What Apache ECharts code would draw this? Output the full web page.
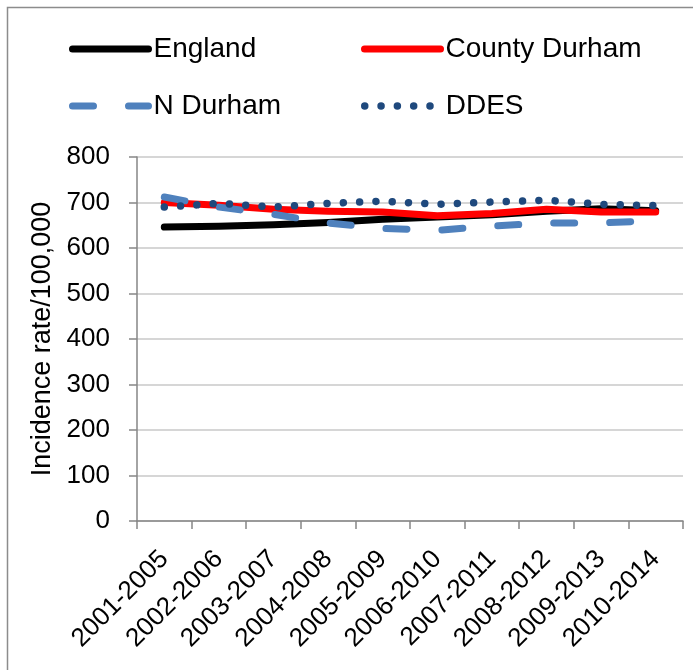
<!DOCTYPE html>
<html>
<head>
<meta charset="utf-8">
<script src="https://cdn.jsdelivr.net/npm/echarts@6/dist/echarts.min.js"></script>
<style>
  html, body { margin: 0; padding: 0; background: #ffffff; }
  #chart { width: 693px; height: 670px; }
</style>
</head>
<body>
<div id="chart"></div>
<script>
// Five-year rolling periods
const periods = ['2001-2005', '2002-2006', '2003-2007', '2004-2008', '2005-2009',
                 '2006-2010', '2007-2011', '2008-2012', '2009-2013', '2010-2014'];

// Incidence rate per 100,000
const england      = [646, 648, 651, 656, 663, 668, 673, 681, 686, 682];
const countyDurham = [700, 694, 685, 681, 679, 671, 676, 685, 679, 679];
const nDurham      = [712, 690, 674, 655, 643, 639, 648, 655, 655, 660];
const ddes         = [690, 698, 690, 698, 703, 696, 701, 705, 696, 693];

const yTicks = { min: 0, max: 800, interval: 100 };

const FONT = "'Liberation Sans', Arial, sans-serif";

// Line styles shared by each series and its legend entry
const styles = {
  'England':       { color: '#000000', width: 7, type: 'solid' },
  'County Durham': { color: '#ff0000', width: 7, type: 'solid' },
  'N Durham':      { color: '#4f81bd', width: 7, type: [21, 35] },
  'DDES':          { color: '#1f497d', width: 7.5, type: [0.01, 16.3] }
};

const chart = echarts.init(document.getElementById('chart'), null, { renderer: 'canvas' });

function legendAt(name, left, top) {
  const s = styles[name];
  return {
    data: [name],
    left: left,
    top: top,
    itemWidth: 76,
    itemHeight: 14,
    itemGap: 0,
    padding: 0,
    itemStyle: { opacity: 0 },
    lineStyle: { width: s.width, type: s.type, cap: 'round', color: s.color },
    textStyle: { fontFamily: FONT, fontSize: 28, color: '#000000' },
    selectedMode: false
  };
}

function lineSeries(name, data, z) {
  const s = styles[name];
  return {
    name: name, type: 'line', data: data,
    symbol: 'none', z: z,
    itemStyle: { color: s.color },
    lineStyle: { color: s.color, width: s.width, type: s.type, cap: 'round', join: 'round' }
  };
}

chart.setOption({
  animation: false,
  backgroundColor: '#ffffff',
  graphic: [{
    type: 'rect',
    shape: { x: 7.5, y: 7.5, width: 720, height: 720 },
    style: { fill: 'none', stroke: '#8c8c8c', lineWidth: 1.5 },
    silent: true
  }],
  legend: [
    legendAt('England', 69, 35),
    legendAt('County Durham', 361, 35),
    legendAt('N Durham', 69, 92),
    legendAt('DDES', 361, 92)
  ],
  grid: { left: 137, right: 10, top: 157, bottom: 149, containLabel: false },
  xAxis: {
    type: 'category',
    data: periods,
    boundaryGap: true,
    axisLine: { lineStyle: { color: '#868686', width: 1.5 } },
    axisTick: { show: true, length: 8, lineStyle: { color: '#868686', width: 1.5 } },
    axisLabel: {
      rotate: 45,
      interval: 0,
      fontFamily: FONT,
      fontSize: 26,
      color: '#000000',
      margin: 34
    },
    splitLine: { show: false }
  },
  yAxis: {
    type: 'value',
    min: yTicks.min,
    max: yTicks.max,
    interval: yTicks.interval,
    name: 'Incidence rate/100,000',
    nameLocation: 'middle',
    nameGap: 79,
    nameRotate: 90,
    nameTextStyle: { fontFamily: FONT, fontSize: 27, color: '#000000' },
    axisLine: { show: true, lineStyle: { color: '#868686', width: 1.5 } },
    axisTick: { show: true, length: 8, lineStyle: { color: '#868686', width: 1.5 } },
    axisLabel: { fontFamily: FONT, fontSize: 26, color: '#000000', margin: 27 },
    splitLine: { show: true, lineStyle: { color: '#c8c8c8', width: 1.5 } }
  },
  series: [
    lineSeries('England', england, 2),
    lineSeries('County Durham', countyDurham, 3),
    lineSeries('N Durham', nDurham, 4),
    lineSeries('DDES', ddes, 5)
  ]
});
</script>
</body>
</html>
